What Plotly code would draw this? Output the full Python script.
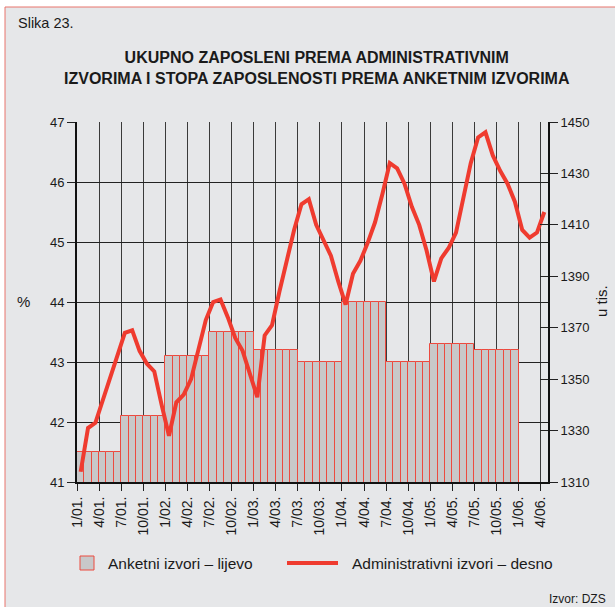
import plotly.graph_objects as go

# ---- data ----
quarter_labels = ["1/01.", "4/01.", "7/01.", "10/01.", "1/02.", "4/02.", "7/02.", "10/02.",
                  "1/03.", "4/03.", "7/03.", "10/03.", "1/04.", "4/04.", "7/04.", "10/04.",
                  "1/05.", "4/05.", "7/05.", "10/05.", "1/06.", "4/06."]
# survey employment rate (%), half-yearly (shown as monthly bars)
anketni_halfyear = [41.5, 42.1, 43.1, 43.5, 43.2, 43.0, 44.0, 43.0, 43.3, 43.2]
# administrative sources, thousands, monthly 1/2001 - 4/2006
administrativni = [
    1314, 1331, 1333, 1342, 1351, 1359, 1368, 1369, 1361, 1356, 1353, 1340,
    1328, 1341, 1344, 1350, 1362, 1373, 1380, 1381, 1374, 1366, 1361, 1352,
    1343, 1367, 1371, 1384, 1396, 1408, 1418, 1420, 1410, 1404, 1398, 1388,
    1379, 1391, 1396, 1403, 1411, 1422, 1434, 1432, 1426, 1417, 1410, 1400,
    1388, 1397, 1401, 1407, 1420, 1434, 1444, 1446, 1437, 1431, 1426, 1419,
    1408, 1405, 1407, 1415,
]
legend_names = ["Anketni izvori \u2013 lijevo", "Administrativni izvori \u2013 desno"]

# ---- layout constants ----
W, H = 615, 607
L, R, T, B = 77, 67, 122, 125
PW, PH = W - L - R, H - T - B


def px(x):
    return (x - L) / PW


def py(y):
    return (H - B - y) / PH


BG = "#e6e7e9"
RED = "#ef3b2f"
BAR_EDGE = "#ec4a3f"
BAR_FILL = "#c8c8c9"
TXT = "#1a1a1a"
FONT = "Liberation Sans, Arial, sans-serif"

bar_vals = [v for v in anketni_halfyear for _ in range(6)]
bar_x = [i + 0.5 for i in range(len(bar_vals))]
line_x = [i + 0.5 for i in range(len(administrativni))]
tickvals = [3 * k for k in range(len(quarter_labels))]

fig = go.Figure()
fig.add_trace(go.Bar(
    x=bar_x, y=bar_vals, width=1,
    marker=dict(color=BAR_FILL, line=dict(color=BAR_EDGE, width=1)),
    name=legend_names[0], yaxis="y", showlegend=False,
))
fig.add_trace(go.Scatter(
    x=line_x, y=administrativni, mode="lines",
    line=dict(color=RED, width=4),
    name=legend_names[1], yaxis="y2", showlegend=False,
))
# helper for crossing ticks on the right axis
fig.add_trace(go.Scatter(x=[None], y=[None], yaxis="y3", showlegend=False, hoverinfo="skip"))

fig.update_layout(
    width=W, height=H,
    margin=dict(l=L, r=R, t=T, b=B),
    paper_bgcolor="white",
    plot_bgcolor="rgba(0,0,0,0)",
    font=dict(family=FONT, color=TXT, size=12),
    bargap=0,
    showlegend=False,
    xaxis=dict(range=[0, 64], tickvals=tickvals, ticktext=quarter_labels, tickangle=-90,
               ticks="outside", ticklen=7, tickcolor="#222", tickwidth=1,
               showgrid=True, gridcolor="#3a3a3a", gridwidth=1,
               showline=True, linecolor="#111", linewidth=2,
               tickfont=dict(size=14), zeroline=False),
    yaxis=dict(range=[41, 47], dtick=1, ticks="outside", ticklen=8, tickcolor="#222",
               showgrid=True, gridcolor="#222", gridwidth=1,
               showline=True, linecolor="#111", linewidth=2, zeroline=False,
               tickfont=dict(size=13)),
    yaxis2=dict(range=[1310, 1450], tick0=1310, dtick=20, overlaying="y", side="right",
                ticks="outside", ticklen=8, tickcolor="#222",
                showgrid=False, showline=True, linecolor="#111", linewidth=2,
                zeroline=False, tickfont=dict(size=13)),
    yaxis3=dict(range=[1310, 1450], tick0=1310, dtick=20, overlaying="y", side="right",
                ticks="inside", ticklen=8, tickcolor="#222", showticklabels=False,
                showgrid=False, showline=False, zeroline=False),
    shapes=[
        dict(type="rect", xref="paper", yref="paper", layer="below",
             x0=px(5), x1=px(622), y0=py(615), y1=py(7),
             fillcolor=BG, line=dict(color="#e8756c", width=1)),
        # legend: bar swatch
        dict(type="rect", xref="paper", yref="paper",
             x0=px(80), x1=px(94), y0=py(570), y1=py(556),
             fillcolor=BAR_FILL, line=dict(color=BAR_EDGE, width=1)),
        # legend: line swatch
        dict(type="line", xref="paper", yref="paper",
             x0=px(287), x1=px(338), y0=py(563), y1=py(563),
             line=dict(color=RED, width=4)),
    ],
    annotations=[
        dict(text="Slika 23.", xref="paper", yref="paper", x=px(16), y=py(23),
             xanchor="left", yanchor="middle", showarrow=False,
             font=dict(size=14.5, family=FONT, color=TXT)),
        dict(text="<b>UKUPNO ZAPOSLENI PREMA ADMINISTRATIVNIM<br>IZVORIMA I STOPA ZAPOSLENOSTI PREMA ANKETNIM IZVORIMA</b>",
             xref="paper", yref="paper", x=px(316.5), y=py(67.5),
             xanchor="center", yanchor="middle", showarrow=False,
             font=dict(size=16, family=FONT, color=TXT)),
        dict(text="%", xref="paper", yref="paper", x=px(23), y=py(301),
             xanchor="center", yanchor="middle", showarrow=False,
             font=dict(size=15, family=FONT, color=TXT)),
        dict(text="u tis.", xref="paper", yref="paper", x=px(601), y=py(301),
             xanchor="center", yanchor="middle", showarrow=False, textangle=-90,
             font=dict(size=15, family=FONT, color=TXT)),
        dict(text=legend_names[0], xref="paper", yref="paper", x=px(106), y=py(563),
             xanchor="left", yanchor="middle", showarrow=False,
             font=dict(size=15.5, family=FONT, color=TXT)),
        dict(text=legend_names[1], xref="paper", yref="paper", x=px(350), y=py(563),
             xanchor="left", yanchor="middle", showarrow=False,
             font=dict(size=15.5, family=FONT, color=TXT)),
        dict(text="Izvor: DZS", xref="paper", yref="paper", x=px(608), y=py(599),
             xanchor="right", yanchor="middle", showarrow=False,
             font=dict(size=12, family=FONT, color=TXT)),
    ],
)

fig.write_html("out.html", config={"displayModeBar": False},
               post_script="document.body.style.margin='0px';")
